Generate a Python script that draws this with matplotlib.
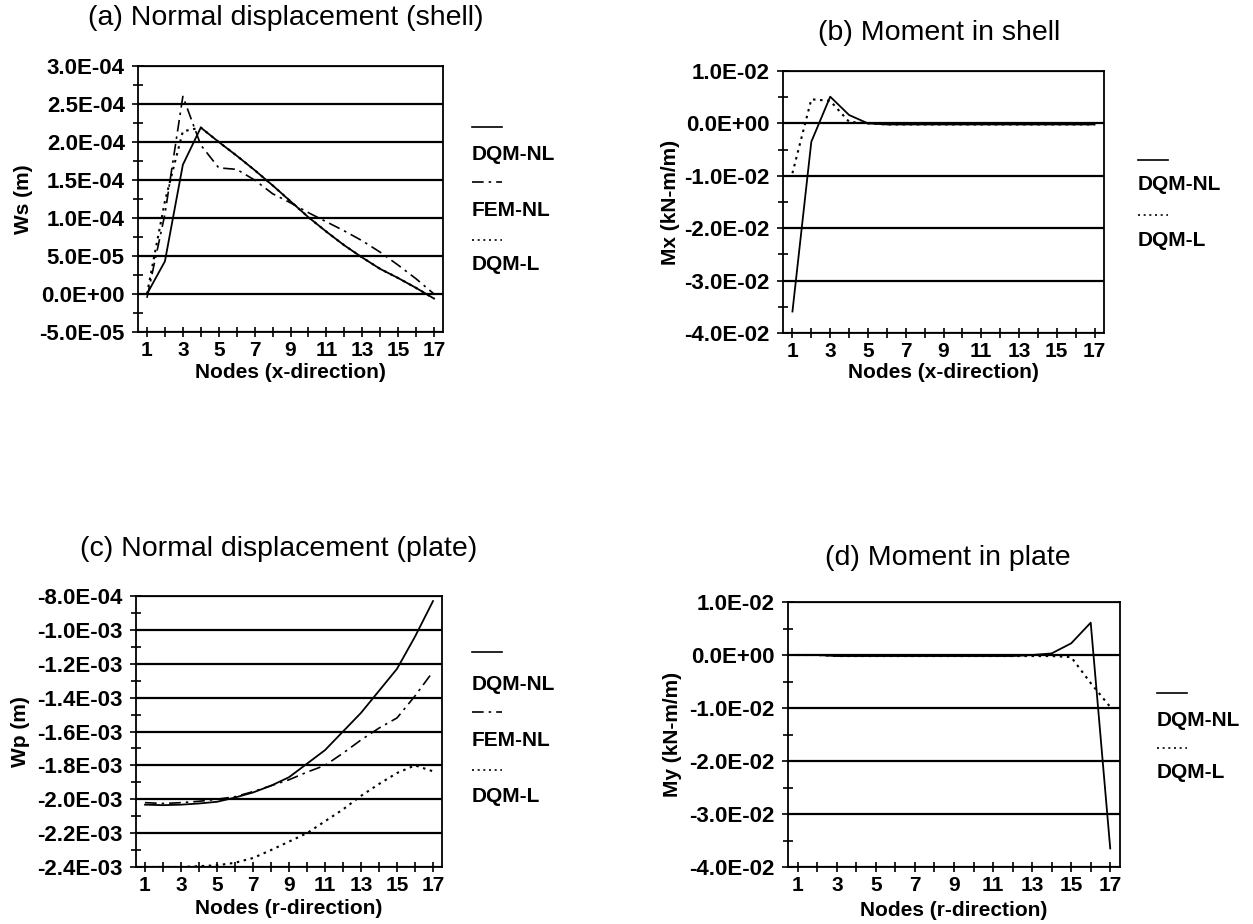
import matplotlib
matplotlib.use('Agg')
import matplotlib.pyplot as plt
from matplotlib.lines import Line2D
from matplotlib.ticker import MultipleLocator, FuncFormatter

plt.rcParams.update({'font.family': ['Liberation Sans', 'DejaVu Sans'], 'font.size': 13,
                     'axes.unicode_minus': False})

nodes = list(range(1, 18))

# (a) normal displacement of shell, Ws (m)
ws_dqm_nl = [0.0, 4.3e-5, 1.70e-4, 2.19e-4, 2.0e-4, 1.82e-4, 1.63e-4, 1.43e-4, 1.22e-4,
             1.01e-4, 0.82e-4, 0.64e-4, 0.48e-4, 0.33e-4, 0.21e-4, 0.08e-4, -0.06e-4]
ws_fem_nl = [-0.05e-4, 1.05e-4, 2.60e-4, 1.96e-4, 1.66e-4, 1.64e-4, 1.50e-4, 1.32e-4, 1.20e-4,
             1.07e-4, 0.95e-4, 0.83e-4, 0.70e-4, 0.55e-4, 0.38e-4, 0.20e-4, 0.0]
ws_dqm_l = [0.0, 1.22e-4, 2.14e-4, 2.19e-4, 2.0e-4, 1.82e-4, 1.63e-4, 1.43e-4, 1.22e-4,
            1.01e-4, 0.82e-4, 0.64e-4, 0.48e-4, 0.33e-4, 0.21e-4, 0.08e-4, -0.06e-4]

# (b) moment in shell, Mx (kN-m/m)
mx_dqm_nl = [-3.59e-2, -0.35e-2, 0.51e-2, 0.16e-2, 0.0, -0.02e-2, -0.02e-2, -0.02e-2, -0.02e-2,
             -0.02e-2, -0.02e-2, -0.02e-2, -0.02e-2, -0.02e-2, -0.02e-2, -0.02e-2, -0.02e-2]
mx_dqm_l = [-0.95e-2, 0.46e-2, 0.43e-2, 0.03e-2, 0.0, -0.02e-2, -0.02e-2, -0.02e-2, -0.02e-2,
            -0.02e-2, -0.02e-2, -0.02e-2, -0.02e-2, -0.02e-2, -0.02e-2, -0.02e-2, -0.02e-2]

# (c) normal displacement of plate, Wp (m)
wp_dqm_nl = [-2.032e-3, -2.035e-3, -2.032e-3, -2.025e-3, -2.015e-3, -1.99e-3, -1.96e-3, -1.92e-3,
             -1.87e-3, -1.79e-3, -1.71e-3, -1.60e-3, -1.49e-3, -1.36e-3, -1.23e-3, -1.04e-3, -0.83e-3]
wp_fem_nl = [-2.02e-3, -2.025e-3, -2.02e-3, -2.012e-3, -2.0e-3, -1.985e-3, -1.955e-3, -1.92e-3,
             -1.885e-3, -1.84e-3, -1.80e-3, -1.728e-3, -1.65e-3, -1.58e-3, -1.52e-3, -1.39e-3, -1.246e-3]
wp_dqm_l = [-2.40e-3, -2.40e-3, -2.40e-3, -2.395e-3, -2.39e-3, -2.375e-3, -2.347e-3, -2.30e-3,
            -2.25e-3, -2.20e-3, -2.13e-3, -2.06e-3, -1.98e-3, -1.91e-3, -1.845e-3, -1.80e-3, -1.835e-3]

# (d) moment in plate, My (kN-m/m)
my_dqm_nl = [0.0, 0.0, -0.02e-2, -0.02e-2, -0.02e-2, -0.02e-2, -0.02e-2, -0.02e-2, -0.02e-2,
             -0.02e-2, -0.02e-2, -0.02e-2, 0.0, 0.03e-2, 0.22e-2, 0.61e-2, -3.65e-2]
my_dqm_l = [0.0, 0.0, -0.02e-2, -0.02e-2, -0.02e-2, -0.02e-2, -0.02e-2, -0.02e-2, -0.02e-2,
            -0.02e-2, -0.02e-2, -0.02e-2, -0.02e-2, -0.02e-2, -0.04e-2, -0.53e-2, -0.98e-2]

SOLID = '-'
DASHDOT = (0, (7, 3, 1.5, 3))
DOTTED = (0, (1.2, 2.2))

fig = plt.figure(figsize=(12.53, 9.24), dpi=100)
W, H = 1253.0, 924.0

def box(l, r, t, b):
    return [l / W, 1 - b / H, (r - l) / W, (b - t) / H]

def fmt(v, pos):
    if abs(v) < 1e-12:
        return '0.0E+00'
    return '%.1E' % v

def setup(ax, px, ylo, yhi, ystep, xlabel, ylabel, ylab_x, xlab_y):
    l, r, t, b = px
    ax.set_xlim(0.5, 17.5)
    ax.set_ylim(ylo, yhi)
    ax.set_xticks(nodes)
    ax.set_xticklabels([str(n) if n % 2 == 1 else '' for n in nodes], fontsize=15, fontweight='bold')
    ax.yaxis.set_major_locator(MultipleLocator(ystep))
    ax.yaxis.set_minor_locator(MultipleLocator(ystep / 2))
    ax.yaxis.set_major_formatter(FuncFormatter(fmt))
    for lab in ax.get_yticklabels():
        lab.set_fontsize(16)
        lab.set_fontweight('bold')
    ax.tick_params(axis='both', which='both', direction='inout', width=1.2, colors='black')
    ax.tick_params(axis='y', which='major', length=9, pad=5)
    ax.tick_params(axis='y', which='minor', length=7)
    ax.tick_params(axis='x', which='major', length=7, pad=3)
    ax.grid(True, axis='y', which='major', color='black', linewidth=1.6)
    ax.set_axisbelow(True)
    for sp in ax.spines.values():
        sp.set_linewidth(1.3)
    ax.set_xlabel(xlabel, fontsize=15, fontweight='bold')
    ax.set_ylabel(ylabel, fontsize=15, fontweight='bold')
    ax.yaxis.set_label_coords((ylab_x - l) / (r - l), 0.5)
    ax.xaxis.set_label_coords(0.5, (b - xlab_y) / (b - t))
    ax.xaxis.label.set_va('center')
    ax.yaxis.label.set_va('center')

def legend(x, ys, styles, labels):
    for (yl, yt), st, lb in zip(ys, styles, labels):
        fig.add_artist(Line2D([x / W, (x + 30) / W], [1 - yl / H, 1 - yl / H],
                              color='black', linestyle=st, linewidth=1.2))
        fig.text(x / W, 1 - yt / H, lb, fontsize=15, fontweight='bold', va='center', ha='left')

# (a)
pa = (138, 443, 66, 332)
ax = fig.add_axes(box(*pa))
ax.plot(nodes, ws_dqm_nl, color='black', linestyle=SOLID, linewidth=1.3)
ax.plot(nodes, ws_fem_nl, color='black', linestyle=DASHDOT, linewidth=1.2)
ax.plot(nodes, ws_dqm_l, color='black', linestyle=DOTTED, linewidth=1.5)
setup(ax, pa, -5e-5, 3e-4, 5e-5, 'Nodes (x-direction)', 'Ws (m)', 24, 373)
fig.text(88 / W, 1 - 18 / H, '(a) Normal displacement (shell)', fontsize=20.5, va='center', ha='left')
legend(472, [(127, 155), (182, 210), (240, 265)], [SOLID, DASHDOT, DOTTED], ['DQM-NL', 'FEM-NL', 'DQM-L'])

# (b)
pb = (783, 1104, 71, 333)
ax = fig.add_axes(box(*pb))
ax.plot(nodes, mx_dqm_nl, color='black', linestyle=SOLID, linewidth=1.3)
ax.plot(nodes, mx_dqm_l, color='black', linestyle=DOTTED, linewidth=1.5)
setup(ax, pb, -4e-2, 1e-2, 1e-2, 'Nodes (x-direction)', 'Mx (kN-m/m)', 671, 373)
fig.text(818 / W, 1 - 33 / H, '(b) Moment in shell', fontsize=20.5, va='center', ha='left')
legend(1138, [(160, 185), (215, 240)], [SOLID, DOTTED], ['DQM-NL', 'DQM-L'])

# (c)
pc = (136, 442, 596, 867)
ax = fig.add_axes(box(*pc))
ax.plot(nodes, wp_dqm_nl, color='black', linestyle=SOLID, linewidth=1.3)
ax.plot(nodes, wp_fem_nl, color='black', linestyle=DASHDOT, linewidth=1.2)
ax.plot(nodes, wp_dqm_l, color='black', linestyle=DOTTED, linewidth=1.5)
setup(ax, pc, -2.4e-3, -0.8e-3, 0.2e-3, 'Nodes (r-direction)', 'Wp (m)', 21, 908)
fig.text(80 / W, 1 - 549 / H, '(c) Normal displacement (plate)', fontsize=20.5, va='center', ha='left')
legend(472, [(652, 685), (712, 740), (770, 796)], [SOLID, DASHDOT, DOTTED], ['DQM-NL', 'FEM-NL', 'DQM-L'])

# (d)
pd_ = (788, 1120, 602, 867)
ax = fig.add_axes(box(*pd_))
ax.plot(nodes, my_dqm_nl, color='black', linestyle=SOLID, linewidth=1.3)
ax.plot(nodes, my_dqm_l, color='black', linestyle=DOTTED, linewidth=1.5)
setup(ax, pd_, -4e-2, 1e-2, 1e-2, 'Nodes (r-direction)', 'My (kN-m/m)', 672, 910)
fig.text(825 / W, 1 - 558 / H, '(d) Moment in plate', fontsize=20.5, va='center', ha='left')
legend(1157, [(693, 720), (748, 773)], [SOLID, DOTTED], ['DQM-NL', 'DQM-L'])

fig.savefig('out.png', dpi=100)
